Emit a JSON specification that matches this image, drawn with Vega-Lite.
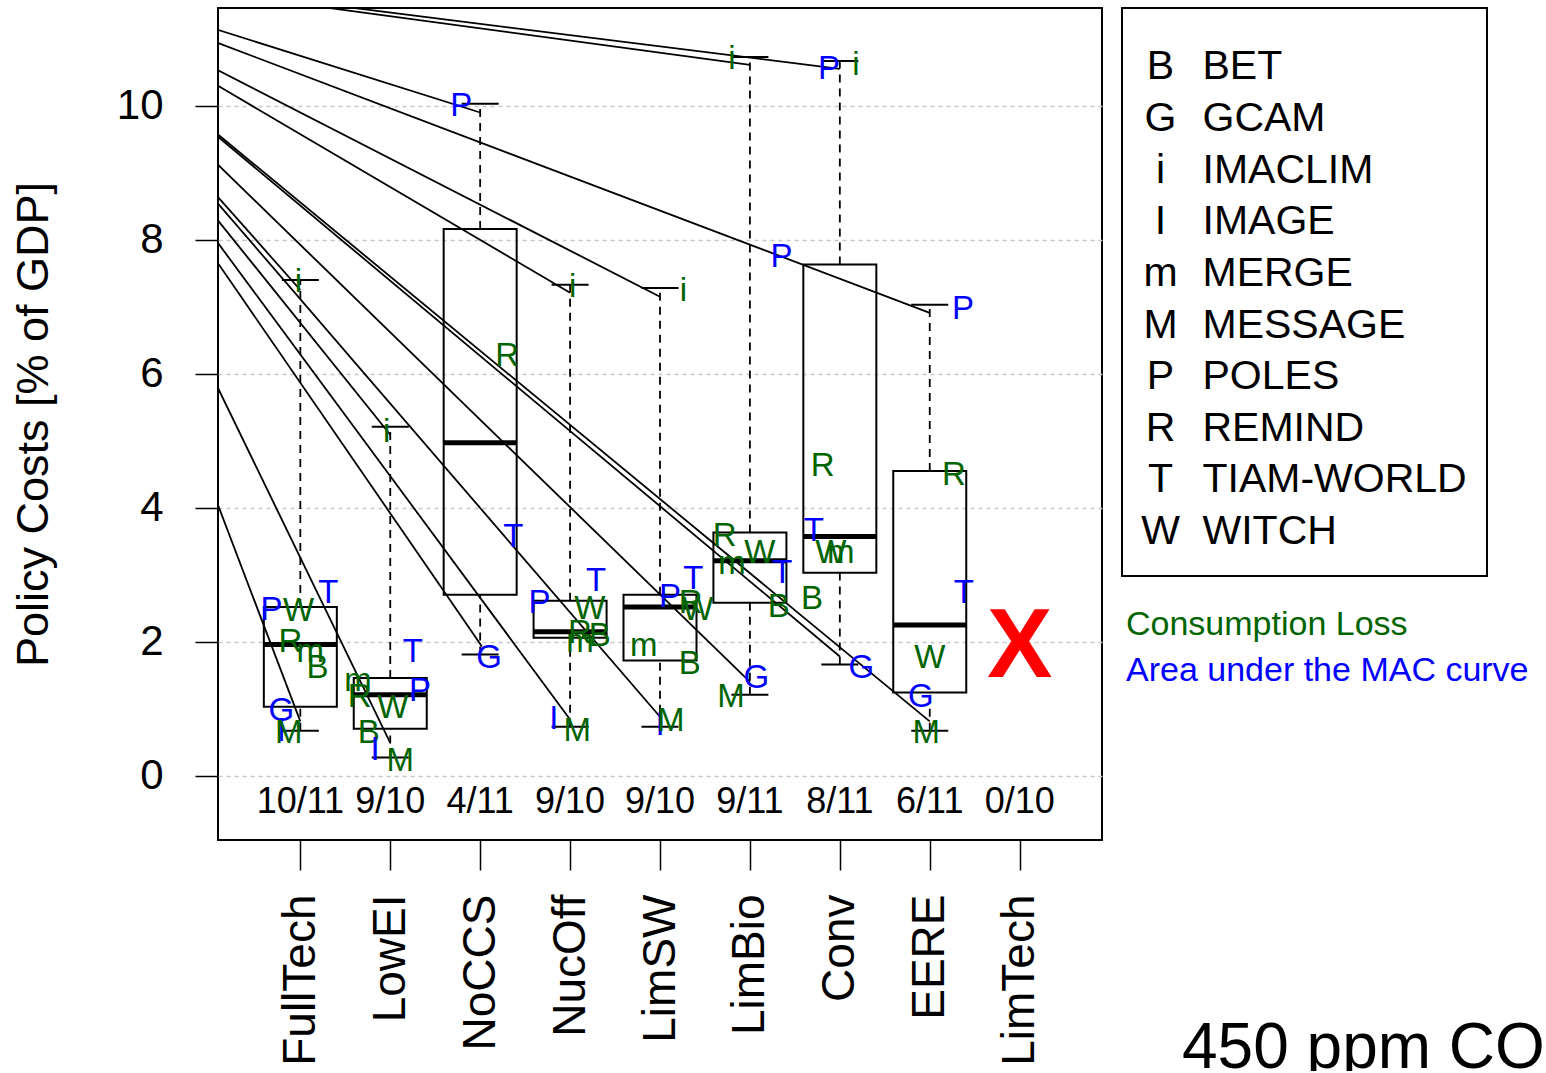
{
  "$schema": "https://vega.github.io/schema/vega-lite/v6.json",
  "background": "white",
  "padding": {"left": 10, "top": 7, "right": 0, "bottom": 0},
  "config": {
    "font": "Liberation Sans",
    "view": {"stroke": "black", "strokeWidth": 2},
    "text": {"font": "Liberation Sans"}
  },
  "datasets": {
    "boxes": [
      {"s": "FullTech", "i": 1, "lo": 0.67, "q1": 1.03, "med": 1.96, "q3": 2.52, "hi": 7.40},
      {"s": "LowEI", "i": 2, "lo": 0.27, "q1": 0.70, "med": 1.21, "q3": 1.46, "hi": 5.21},
      {"s": "NoCCS", "i": 3, "lo": 1.81, "q1": 2.70, "med": 4.97, "q3": 8.16, "hi": 10.03},
      {"s": "NucOff", "i": 4, "lo": 0.73, "q1": 2.06, "med": 2.15, "q3": 2.61, "hi": 7.33},
      {"s": "LimSW", "i": 5, "lo": 0.73, "q1": 1.72, "med": 2.52, "q3": 2.70, "hi": 7.28},
      {"s": "LimBio", "i": 6, "lo": 1.21, "q1": 2.58, "med": 3.21, "q3": 3.63, "hi": 10.73},
      {"s": "Conv", "i": 7, "lo": 1.66, "q1": 3.03, "med": 3.57, "q3": 7.63, "hi": 10.67},
      {"s": "EERE", "i": 8, "lo": 0.67, "q1": 1.24, "med": 2.25, "q3": 4.55, "hi": 7.03}
    ],
    "ratios": [
      {"i": 1, "r": "10/11"}, {"i": 2, "r": "9/10"}, {"i": 3, "r": "4/11"},
      {"i": 4, "r": "9/10"}, {"i": 5, "r": "9/10"}, {"i": 6, "r": "9/11"},
      {"i": 7, "r": "8/11"}, {"i": 8, "r": "6/11"}, {"i": 9, "r": "0/10"}
    ],
    "missing": [{"s": "LimTech", "i": 9, "y": 1.91, "t": "X"}],
    "rays": [
      {"s": "FullTech", "x": 1.0, "y": 7.25}, {"s": "FullTech", "x": 1.0, "y": 0.81},
      {"s": "LowEI", "x": 2.0, "y": 5.09}, {"s": "LowEI", "x": 2.0, "y": 0.49},
      {"s": "NoCCS", "x": 3.0, "y": 9.90}, {"s": "NoCCS", "x": 3.02, "y": 1.93},
      {"s": "NucOff", "x": 4.0, "y": 7.21}, {"s": "NucOff", "x": 4.0, "y": 0.84},
      {"s": "LimSW", "x": 5.0, "y": 7.15}, {"s": "LimSW", "x": 5.0, "y": 0.88},
      {"s": "LimBio", "x": 6.0, "y": 10.61}, {"s": "LimBio", "x": 6.0, "y": 1.40},
      {"s": "Conv", "x": 7.0, "y": 10.55}, {"s": "Conv", "x": 7.0, "y": 1.78},
      {"s": "EERE", "x": 8.0, "y": 6.91}, {"s": "EERE", "x": 8.0, "y": 0.81}
    ],
    "labels": [
      {"s": "FullTech", "l": "i", "m": "Consumption Loss", "x": 0.98, "y": 7.37},
      {"s": "FullTech", "l": "P", "m": "Area under the MAC curve", "x": 0.68, "y": 2.48},
      {"s": "FullTech", "l": "W", "m": "Consumption Loss", "x": 0.98, "y": 2.46},
      {"s": "FullTech", "l": "T", "m": "Area under the MAC curve", "x": 1.31, "y": 2.73},
      {"s": "FullTech", "l": "R", "m": "Consumption Loss", "x": 0.89, "y": 2.00},
      {"s": "FullTech", "l": "m", "m": "Consumption Loss", "x": 1.11, "y": 1.84},
      {"s": "FullTech", "l": "B", "m": "Consumption Loss", "x": 1.19, "y": 1.61},
      {"s": "FullTech", "l": "G", "m": "Area under the MAC curve", "x": 0.79, "y": 0.97},
      {"s": "FullTech", "l": "I", "m": "Area under the MAC curve", "x": 0.79, "y": 0.66},
      {"s": "FullTech", "l": "M", "m": "Consumption Loss", "x": 0.87, "y": 0.64},
      {"s": "LowEI", "l": "i", "m": "Consumption Loss", "x": 1.96, "y": 5.13},
      {"s": "LowEI", "l": "T", "m": "Area under the MAC curve", "x": 2.25, "y": 1.84},
      {"s": "LowEI", "l": "m", "m": "Consumption Loss", "x": 1.64, "y": 1.42},
      {"s": "LowEI", "l": "R", "m": "Consumption Loss", "x": 1.66, "y": 1.18},
      {"s": "LowEI", "l": "W", "m": "Consumption Loss", "x": 2.03, "y": 1.01},
      {"s": "LowEI", "l": "P", "m": "Area under the MAC curve", "x": 2.33, "y": 1.27},
      {"s": "LowEI", "l": "B", "m": "Consumption Loss", "x": 1.76, "y": 0.64},
      {"s": "LowEI", "l": "I", "m": "Area under the MAC curve", "x": 1.83, "y": 0.39},
      {"s": "LowEI", "l": "M", "m": "Consumption Loss", "x": 2.11, "y": 0.22},
      {"s": "NoCCS", "l": "P", "m": "Area under the MAC curve", "x": 2.79, "y": 9.99},
      {"s": "NoCCS", "l": "R", "m": "Consumption Loss", "x": 3.30, "y": 6.27},
      {"s": "NoCCS", "l": "T", "m": "Area under the MAC curve", "x": 3.37, "y": 3.57},
      {"s": "NoCCS", "l": "G", "m": "Area under the MAC curve", "x": 3.10, "y": 1.76},
      {"s": "NucOff", "l": "i", "m": "Consumption Loss", "x": 4.03, "y": 7.30},
      {"s": "NucOff", "l": "P", "m": "Area under the MAC curve", "x": 3.66, "y": 2.58},
      {"s": "NucOff", "l": "T", "m": "Area under the MAC curve", "x": 4.29, "y": 2.91},
      {"s": "NucOff", "l": "W", "m": "Consumption Loss", "x": 4.22, "y": 2.49},
      {"s": "NucOff", "l": "R", "m": "Consumption Loss", "x": 4.11, "y": 2.13},
      {"s": "NucOff", "l": "m", "m": "Consumption Loss", "x": 4.11, "y": 1.99},
      {"s": "NucOff", "l": "B", "m": "Consumption Loss", "x": 4.33, "y": 2.09},
      {"s": "NucOff", "l": "I", "m": "Area under the MAC curve", "x": 3.82, "y": 0.84},
      {"s": "NucOff", "l": "M", "m": "Consumption Loss", "x": 4.08, "y": 0.67},
      {"s": "LimSW", "l": "i", "m": "Consumption Loss", "x": 5.26, "y": 7.24},
      {"s": "LimSW", "l": "P", "m": "Area under the MAC curve", "x": 5.11, "y": 2.67},
      {"s": "LimSW", "l": "T", "m": "Area under the MAC curve", "x": 5.37, "y": 2.94},
      {"s": "LimSW", "l": "R", "m": "Consumption Loss", "x": 5.34, "y": 2.58},
      {"s": "LimSW", "l": "W", "m": "Consumption Loss", "x": 5.42, "y": 2.48},
      {"s": "LimSW", "l": "m", "m": "Consumption Loss", "x": 4.82, "y": 1.93},
      {"s": "LimSW", "l": "B", "m": "Consumption Loss", "x": 5.33, "y": 1.67},
      {"s": "LimSW", "l": "I", "m": "Area under the MAC curve", "x": 5.00, "y": 0.75},
      {"s": "LimSW", "l": "M", "m": "Consumption Loss", "x": 5.12, "y": 0.82},
      {"s": "LimBio", "l": "i", "m": "Consumption Loss", "x": 5.80, "y": 10.70},
      {"s": "LimBio", "l": "P", "m": "Area under the MAC curve", "x": 6.35, "y": 7.75},
      {"s": "LimBio", "l": "R", "m": "Consumption Loss", "x": 5.72, "y": 3.58},
      {"s": "LimBio", "l": "W", "m": "Consumption Loss", "x": 6.11, "y": 3.33},
      {"s": "LimBio", "l": "m", "m": "Consumption Loss", "x": 5.80, "y": 3.16},
      {"s": "LimBio", "l": "T", "m": "Area under the MAC curve", "x": 6.36, "y": 3.03},
      {"s": "LimBio", "l": "B", "m": "Consumption Loss", "x": 6.32, "y": 2.52},
      {"s": "LimBio", "l": "G", "m": "Area under the MAC curve", "x": 6.07, "y": 1.46},
      {"s": "LimBio", "l": "M", "m": "Consumption Loss", "x": 5.79, "y": 1.18},
      {"s": "Conv", "l": "P", "m": "Area under the MAC curve", "x": 6.88, "y": 10.55},
      {"s": "Conv", "l": "i", "m": "Consumption Loss", "x": 7.18, "y": 10.61},
      {"s": "Conv", "l": "R", "m": "Consumption Loss", "x": 6.81, "y": 4.63},
      {"s": "Conv", "l": "T", "m": "Area under the MAC curve", "x": 6.71, "y": 3.66},
      {"s": "Conv", "l": "W", "m": "Consumption Loss", "x": 6.90, "y": 3.33},
      {"s": "Conv", "l": "m", "m": "Consumption Loss", "x": 7.01, "y": 3.33},
      {"s": "Conv", "l": "B", "m": "Consumption Loss", "x": 6.69, "y": 2.64},
      {"s": "Conv", "l": "G", "m": "Area under the MAC curve", "x": 7.24, "y": 1.61},
      {"s": "EERE", "l": "P", "m": "Area under the MAC curve", "x": 8.37, "y": 6.97},
      {"s": "EERE", "l": "R", "m": "Consumption Loss", "x": 8.27, "y": 4.49},
      {"s": "EERE", "l": "T", "m": "Area under the MAC curve", "x": 8.38, "y": 2.72},
      {"s": "EERE", "l": "W", "m": "Consumption Loss", "x": 8.00, "y": 1.76},
      {"s": "EERE", "l": "G", "m": "Area under the MAC curve", "x": 7.90, "y": 1.18},
      {"s": "EERE", "l": "M", "m": "Consumption Loss", "x": 7.96, "y": 0.64}
    ],
    "models": [
      {"l": "B", "name": "BET"}, {"l": "G", "name": "GCAM"}, {"l": "i", "name": "IMACLIM"},
      {"l": "I", "name": "IMAGE"}, {"l": "m", "name": "MERGE"}, {"l": "M", "name": "MESSAGE"},
      {"l": "P", "name": "POLES"}, {"l": "R", "name": "REMIND"}, {"l": "T", "name": "TIAM-WORLD"},
      {"l": "W", "name": "WITCH"}
    ],
    "notes": [
      {"t": "Consumption Loss"}, {"t": "Area under the MAC curve"}
    ],
    "caption": [{"t": "450 ppm CO₂"}]
  },
  "hconcat": [
    {
      "width": 884,
      "height": 832,
      "layer": [
        {
          "data": {"name": "rays"},
          "mark": {"type": "rule", "clip": true, "color": "black", "strokeWidth": 1.8},
          "encoding": {
            "x": {"field": "x", "type": "quantitative",
                  "scale": {"domain": [0.14, 9.86], "nice": false, "zero": false},
                  "axis": {"values": [1, 2, 3, 4, 5, 6, 7, 8, 9], "title": null, "grid": false, "domain": false,
                           "labelExpr": "['FullTech','LowEI','NoCCS','NucOff','LimSW','LimBio','Conv','EERE','LimTech'][datum.value-1]",
                           "labelAngle": -90, "labelAlign": "right", "labelBaseline": "middle",
                           "labelFontSize": 46, "labelColor": "black", "labelPadding": 24,
                           "tickSize": 30, "tickColor": "black", "tickWidth": 1.5}},
            "x2": {"datum": -2.2},
            "y": {"field": "y", "type": "quantitative",
                  "scale": {"domain": [-0.96, 11.46], "nice": false, "zero": false},
                  "axis": {"values": [0, 2, 4, 6, 8, 10], "format": "d", "title": "Policy Costs [% of GDP]",
                           "titleFontSize": 45, "titleFontWeight": "normal", "titleColor": "black", "titlePadding": 60,
                           "labelFontSize": 42, "labelColor": "black", "labelPadding": 32,
                           "tickSize": 23, "tickColor": "black", "tickWidth": 1.5, "domain": false,
                           "grid": true, "gridDash": [4, 4], "gridColor": "#c8c8c8", "gridWidth": 1.5}},
            "y2": {"datum": 12.1}
          }
        },
        {
          "data": {"name": "boxes"},
          "mark": {"type": "rule", "strokeDash": [8, 6], "color": "black", "strokeWidth": 1.8},
          "encoding": {
            "x": {"field": "i", "type": "quantitative", "scale": {"domain": [0.14, 9.86], "nice": false, "zero": false}},
            "y": {"field": "lo", "type": "quantitative", "scale": {"domain": [-0.96, 11.46], "nice": false, "zero": false}},
            "y2": {"field": "q1"}
          }
        },
        {
          "data": {"name": "boxes"},
          "mark": {"type": "rule", "strokeDash": [8, 6], "color": "black", "strokeWidth": 1.8},
          "encoding": {
            "x": {"field": "i", "type": "quantitative", "scale": {"domain": [0.14, 9.86], "nice": false, "zero": false}},
            "y": {"field": "q3", "type": "quantitative", "scale": {"domain": [-0.96, 11.46], "nice": false, "zero": false}},
            "y2": {"field": "hi"}
          }
        },
        {
          "data": {"name": "boxes"},
          "mark": {"type": "tick", "orient": "horizontal", "size": 37, "thickness": 2, "color": "black", "opacity": 1},
          "encoding": {
            "x": {"field": "i", "type": "quantitative", "scale": {"domain": [0.14, 9.86], "nice": false, "zero": false}},
            "y": {"field": "lo", "type": "quantitative", "scale": {"domain": [-0.96, 11.46], "nice": false, "zero": false}}
          }
        },
        {
          "data": {"name": "boxes"},
          "mark": {"type": "tick", "orient": "horizontal", "size": 37, "thickness": 2, "color": "black", "opacity": 1},
          "encoding": {
            "x": {"field": "i", "type": "quantitative", "scale": {"domain": [0.14, 9.86], "nice": false, "zero": false}},
            "y": {"field": "hi", "type": "quantitative", "scale": {"domain": [-0.96, 11.46], "nice": false, "zero": false}}
          }
        },
        {
          "data": {"name": "boxes"},
          "mark": {"type": "bar", "size": 73, "fill": "transparent", "stroke": "black", "strokeWidth": 2},
          "encoding": {
            "x": {"field": "i", "type": "quantitative", "scale": {"domain": [0.14, 9.86], "nice": false, "zero": false}},
            "y": {"field": "q1", "type": "quantitative", "scale": {"domain": [-0.96, 11.46], "nice": false, "zero": false}},
            "y2": {"field": "q3"}
          }
        },
        {
          "data": {"name": "boxes"},
          "mark": {"type": "tick", "orient": "horizontal", "size": 73, "thickness": 5, "color": "black", "opacity": 1},
          "encoding": {
            "x": {"field": "i", "type": "quantitative", "scale": {"domain": [0.14, 9.86], "nice": false, "zero": false}},
            "y": {"field": "med", "type": "quantitative", "scale": {"domain": [-0.96, 11.46], "nice": false, "zero": false}}
          }
        },
        {
          "data": {"name": "labels"},
          "mark": {"type": "text", "fontSize": 33, "align": "center", "baseline": "middle"},
          "encoding": {
            "x": {"field": "x", "type": "quantitative", "scale": {"domain": [0.14, 9.86], "nice": false, "zero": false}},
            "y": {"field": "y", "type": "quantitative", "scale": {"domain": [-0.96, 11.46], "nice": false, "zero": false}},
            "text": {"field": "l"},
            "color": {"field": "m", "type": "nominal",
                      "scale": {"domain": ["Consumption Loss", "Area under the MAC curve"], "range": ["#006400", "#0000ff"]},
                      "legend": null}
          }
        },
        {
          "data": {"name": "ratios"},
          "mark": {"type": "text", "fontSize": 36, "align": "center", "baseline": "middle", "color": "black"},
          "encoding": {
            "x": {"field": "i", "type": "quantitative", "scale": {"domain": [0.14, 9.86], "nice": false, "zero": false}},
            "y": {"datum": -0.4, "type": "quantitative", "scale": {"domain": [-0.96, 11.46], "nice": false, "zero": false}},
            "text": {"field": "r"}
          }
        },
        {
          "data": {"name": "missing"},
          "mark": {"type": "text", "fontSize": 98, "fontWeight": "bold", "align": "center", "baseline": "middle", "color": "#ff0000"},
          "encoding": {
            "x": {"field": "i", "type": "quantitative", "scale": {"domain": [0.14, 9.86], "nice": false, "zero": false}},
            "y": {"field": "y", "type": "quantitative", "scale": {"domain": [-0.96, 11.46], "nice": false, "zero": false}},
            "text": {"field": "t"}
          }
        }
      ]
    },
    {
      "spacing": 317,
      "vconcat": [
        {
          "spacing": 25,
          "vconcat": [
            {
              "width": 365,
              "height": 568,
              "data": {"name": "models"},
              "layer": [
                {
                  "mark": {"type": "text", "fontSize": 41, "align": "center", "baseline": "middle", "dx": -144, "color": "black"},
                  "encoding": {
                    "y": {"field": "name", "type": "ordinal", "sort": null, "scale": {"padding": 1.03, "align": 0.575}, "axis": null},
                    "text": {"field": "l"}
                  }
                },
                {
                  "mark": {"type": "text", "fontSize": 41, "align": "left", "baseline": "middle", "dx": -102, "color": "black"},
                  "encoding": {
                    "y": {"field": "name", "type": "ordinal", "sort": null, "scale": {"padding": 1.03, "align": 0.575}, "axis": null},
                    "text": {"field": "name"}
                  }
                }
              ]
            },
            {
              "width": 426,
              "height": 92,
              "view": {"stroke": null},
              "data": {"name": "notes"},
              "mark": {"type": "text", "fontSize": 34, "align": "left", "baseline": "middle", "dx": -209},
              "encoding": {
                "y": {"field": "t", "type": "ordinal", "sort": null, "scale": {"padding": 0.5}, "axis": null},
                "text": {"field": "t"},
                "color": {"field": "t", "type": "nominal",
                          "scale": {"domain": ["Consumption Loss", "Area under the MAC curve"], "range": ["#006400", "#0000ff"]},
                          "legend": null}
              }
            }
          ]
        },
        {
          "width": 426,
          "height": 60,
          "view": {"stroke": null},
          "data": {"name": "caption"},
          "mark": {"type": "text", "fontSize": 64, "align": "left", "baseline": "middle", "dx": -153, "dy": 8, "clip": true, "color": "black"},
          "encoding": {"text": {"field": "t"}}
        }
      ]
    }
  ],
  "spacing": 18
}
